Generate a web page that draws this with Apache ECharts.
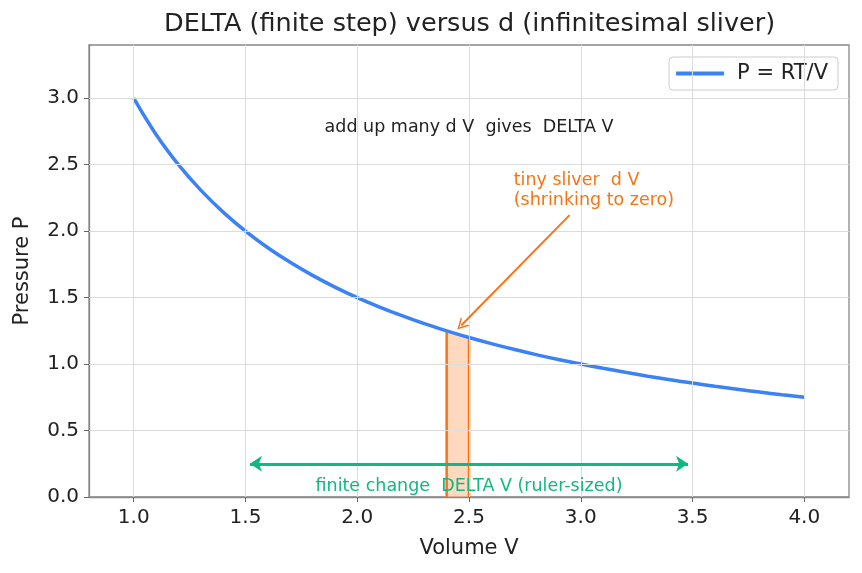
<!DOCTYPE html>
<html>
<head>
<meta charset="utf-8">
<script src="https://cdn.jsdelivr.net/npm/echarts@6/dist/echarts.min.js"></script>
<style>
  html, body { margin: 0; padding: 0; background: #fff; }
  #chart { width: 862px; height: 573px; }
</style>
</head>
<body>
<div id="chart"></div>
<script>
// curve P = RT/V (RT = 3)
const volume = [1.0, 1.1, 1.2, 1.3, 1.4, 1.5, 1.6, 1.7, 1.8, 1.9, 2.0, 2.1, 2.2, 2.3, 2.4, 2.5,
  2.6, 2.7, 2.8, 2.9, 3.0, 3.1, 3.2, 3.3, 3.4, 3.5, 3.6, 3.7, 3.8, 3.9, 4.0];
const pressure = [3.000, 2.727, 2.500, 2.308, 2.143, 2.000, 1.875, 1.765, 1.667, 1.579, 1.500, 1.429, 1.364,
  1.304, 1.250, 1.200, 1.154, 1.111, 1.071, 1.034, 1.000, 0.968, 0.938, 0.909, 0.882, 0.857, 0.833,
  0.811, 0.789, 0.769, 0.750];

// the sliver dV
const sliverV = [2.4, 2.45, 2.5];
const sliverP = [1.25, 1.224, 1.20];

// finite change arrow
const deltaArrow = [[1.52, 0.25], [3.48, 0.25]];
// annotation arrow (tail, head)
const sliverArrow = [[2.95, 2.12], [2.465, 1.29]];

const xTicks = [1.0, 1.5, 2.0, 2.5, 3.0, 3.5, 4.0];
const yTicks = [0.5, 1.0, 1.5, 2.0, 2.5, 3.0];

const BLUE = '#3b82f6', ORANGE = '#f97316', GREEN = '#10b981';
const FONT = 'DejaVu Sans';
// open "->" style head, tip at the top
const OPEN_HEAD = 'path://M0,10 L5,0 L10,10 L8.6,10 L5,2.8 L1.4,10 Z';

const chartDom = document.getElementById('chart');
const myChart = echarts.init(chartDom);

function pairs(xs, ys) {
  return xs.map((x, i) => [x, ys[i]]);
}

let option = {
  animation: false,
  textStyle: { fontFamily: FONT },
  title: {
    text: 'DELTA (finite step) versus d (infinitesimal sliver)',
    left: 159,
    top: 6,
    textStyle: { fontFamily: FONT, fontSize: 25.5, fontWeight: 'normal', color: '#222' }
  },
  legend: {
    data: ['P = RT/V'],
    right: 24,
    top: 57,
    padding: [6, 10, 6, 7],
    borderColor: '#ccc',
    borderWidth: 1,
    borderRadius: 4,
    icon: 'rect',
    itemWidth: 48,
    itemHeight: 4,
    textStyle: { fontFamily: FONT, fontSize: 21, color: '#222', padding: [0, 0, 0, 8] }
  },
  grid: {
    left: 89, right: 13, top: 45, bottom: 76,
    show: true, borderColor: '#888', borderWidth: 1.3
  },
  xAxis: {
    type: 'value',
    min: 0.8, max: 4.2,
    name: 'Volume V',
    nameLocation: 'middle',
    nameGap: 41,
    nameTextStyle: { fontFamily: FONT, fontSize: 21, color: '#222' },
    axisLine: { show: true, lineStyle: { color: '#888', width: 1.3 } },
    axisTick: { show: true, customValues: xTicks, length: 5, lineStyle: { color: '#666' } },
    axisLabel: { customValues: xTicks, fontFamily: FONT, fontSize: 20, color: '#222', margin: 11,
      formatter: v => v.toFixed(1) },
    splitLine: { show: false }
  },
  yAxis: {
    type: 'value',
    min: 0, max: 3.4,
    name: 'Pressure P',
    nameLocation: 'middle',
    nameGap: 56,
    nameTextStyle: { fontFamily: FONT, fontSize: 21, color: '#222' },
    axisLine: { show: true, lineStyle: { color: '#888', width: 1.3 } },
    axisTick: { show: true, customValues: [0].concat(yTicks), length: 5, lineStyle: { color: '#666' } },
    axisLabel: { customValues: [0].concat(yTicks), fontFamily: FONT, fontSize: 20, color: '#222', margin: 10,
      formatter: v => v.toFixed(1) },
    splitLine: { show: false }
  },
  series: [
    {
      // grid lines
      type: 'line',
      data: [],
      silent: true,
      markLine: {
        silent: true,
        symbol: ['none', 'none'],
        label: { show: false },
        lineStyle: { color: '#dcdcdc', width: 1, type: 'solid' },
        data: xTicks.map(v => ({ xAxis: v })).concat(yTicks.map(v => ({ yAxis: v })))
      },
      z: 0
    },
    {
      name: 'sliver',
      type: 'line',
      data: pairs(sliverV, sliverP),
      showSymbol: false,
      lineStyle: { width: 0 },
      areaStyle: { color: 'rgba(253,186,140,0.8)', origin: 'start' },
      z: 1
    },
    {
      name: 'sliver left',
      type: 'line',
      data: [[sliverV[0], 0], [sliverV[0], sliverP[0]]],
      showSymbol: false,
      lineStyle: { color: ORANGE, width: 2.5 },
      z: 2
    },
    {
      name: 'sliver right',
      type: 'line',
      data: [[sliverV[2], 0], [sliverV[2], sliverP[2]]],
      showSymbol: false,
      lineStyle: { color: ORANGE, width: 2.5 },
      z: 2
    },
    {
      name: 'P = RT/V',
      type: 'line',
      data: pairs(volume, pressure),
      smooth: 0.4,
      showSymbol: false,
      color: BLUE,
      lineStyle: { color: BLUE, width: 3.5 },
      z: 3,
      markLine: {
        silent: true,
        animation: false,
        label: { show: false },
        data: [
          [
            { coord: deltaArrow[0], symbol: 'arrow', symbolSize: [12, 12], lineStyle: { color: GREEN, width: 3, type: 'solid' } },
            { coord: deltaArrow[1], symbol: 'arrow', symbolSize: [12, 12] }
          ],
          [
            { coord: sliverArrow[0], symbol: 'none', lineStyle: { color: ORANGE, width: 2, type: 'solid' } },
            { coord: sliverArrow[1], symbol: OPEN_HEAD, symbolSize: [12, 11] }
          ]
        ]
      },
      markPoint: {
        silent: true,
        symbol: 'circle',
        symbolSize: 0,
        data: [
          {
            coord: [2.5, 2.78],
            label: { show: true, position: 'inside', formatter: 'add up many d V  gives  DELTA V',
              fontFamily: FONT, fontSize: 17.5, color: '#222' }
          },
          {
            coord: [2.7, 2.2],
            label: { show: true, position: [0, 6], align: 'left', verticalAlign: 'bottom',
              formatter: 'tiny sliver  d V\n(shrinking to zero)', lineHeight: 20,
              fontFamily: FONT, fontSize: 17.5, color: ORANGE }
          },
          {
            coord: [2.5, 0.08],
            label: { show: true, position: 'inside', formatter: 'finite change  DELTA V (ruler-sized)',
              fontFamily: FONT, fontSize: 17.5, color: GREEN }
          }
        ]
      }
    }
  ]
};

myChart.setOption(option);
</script>
</body>
</html>
